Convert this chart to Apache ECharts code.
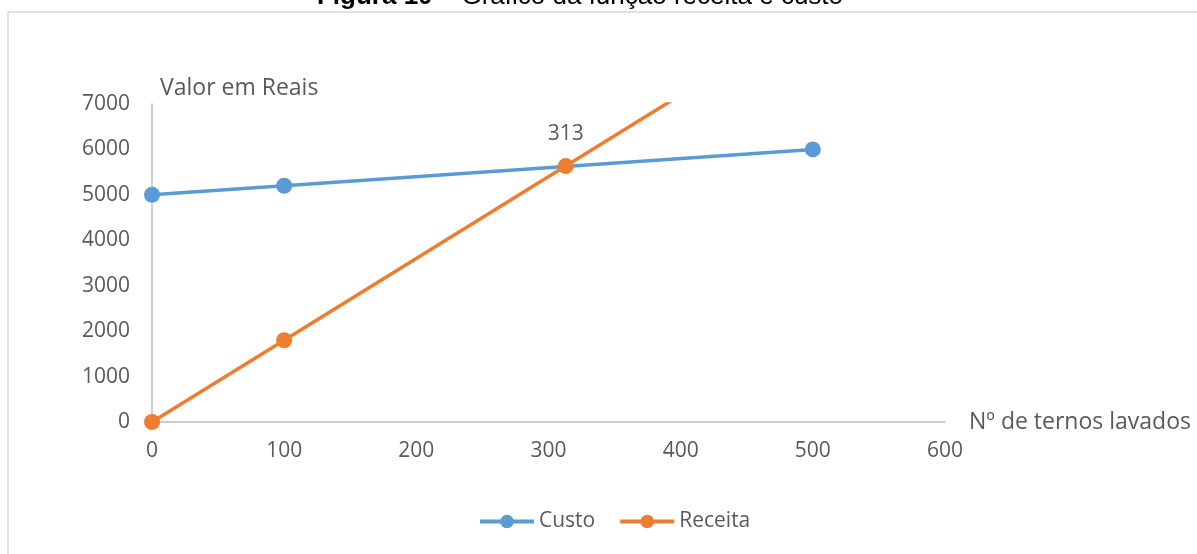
<!DOCTYPE html>
<html>
<head>
<meta charset="utf-8">
<script src="https://cdn.jsdelivr.net/npm/echarts@6/dist/echarts.min.js"></script>
<style>
  html, body { margin: 0; padding: 0; background: #ffffff; }
  #chart { width: 1197px; height: 554px; }
</style>
</head>
<body>
<div id="chart"></div>
<script>
// Number of suits washed (x) against value in reais (y)
const custoX = [0, 100, 500];
const custoY = [5000, 5200, 6000];
const receitaX = [0, 100, 313, 500];
const receitaY = [0, 1800, 5634, 9000];
const breakEvenLabel = '313';
const xTicks = { min: 0, max: 600, step: 100 };
const yTicks = { min: 0, max: 7000, step: 1000 };

const FONT = '"Open Sans", sans-serif';
const TITLE_FONT = '"Liberation Sans", Arial, sans-serif';
const GREY = '#595959';

const chart = echarts.init(document.getElementById('chart'), null, { renderer: 'canvas' });

const custoData = custoX.map((x, i) => [x, custoY[i]]);
const receitaData = receitaX.map((x, i) => {
  const p = { value: [x, receitaY[i]] };
  if (String(x) === breakEvenLabel) {
    p.label = {
      show: true, position: 'top', distance: 14,
      formatter: breakEvenLabel, color: GREY, fontSize: 21, fontFamily: FONT
    };
  }
  return p;
});

chart.setOption({
  animation: false,
  backgroundColor: '#ffffff',
  graphic: [
    {
      type: 'rect', silent: true, z: -10,
      shape: { x: 8, y: 12, width: 1400, height: 800 },
      style: { fill: 'none', stroke: '#d9d9d9', lineWidth: 1.5 }
    },
    {
      type: 'text', silent: true, x: 580, y: 10,
      style: {
        text: '{b|Figura 10}{r| – Gráfico da função receita e custo}',
        align: 'center', verticalAlign: 'bottom',
        fontSize: 26, fontFamily: TITLE_FONT, fill: '#000000',
        rich: {
          b: { fontWeight: 'bold', fontSize: 26, fontFamily: TITLE_FONT, fill: '#000000' },
          r: { fontWeight: 'normal', fontSize: 26, fontFamily: TITLE_FONT, fill: '#000000' }
        }
      }
    }
  ],
  grid: { left: 152, right: 252, top: 104, bottom: 132, containLabel: false },
  legend: {
    bottom: 17, left: 473,
    itemWidth: 54, itemHeight: 17, itemGap: 23,
    lineStyle: { width: 4 },
    textStyle: { color: GREY, fontSize: 21, fontFamily: FONT },
    data: ['Custo', 'Receita']
  },
  xAxis: {
    type: 'value', min: xTicks.min, max: xTicks.max, interval: xTicks.step,
    name: 'Nº de ternos lavados', nameLocation: 'end', nameGap: 24,
    nameTextStyle: { color: GREY, fontSize: 23, fontFamily: FONT, align: 'left', verticalAlign: 'middle' },
    axisLine: { show: true, lineStyle: { color: '#bfbfbf', width: 1.5 } },
    axisTick: { show: false },
    splitLine: { show: false },
    axisLabel: { color: GREY, fontSize: 21, fontFamily: FONT, margin: 19 }
  },
  yAxis: {
    type: 'value', min: yTicks.min, max: yTicks.max, interval: yTicks.step,
    name: 'Valor em Reais', nameLocation: 'end', nameGap: 4,
    nameTextStyle: { color: GREY, fontSize: 23, fontFamily: FONT, align: 'left', padding: [0, 0, 0, 8] },
    axisLine: { show: true, lineStyle: { color: '#bfbfbf', width: 1.5 } },
    axisTick: { show: false },
    splitLine: { show: false },
    axisLabel: { color: GREY, fontSize: 21, fontFamily: FONT, margin: 22, formatter: (v) => String(v) }
  },
  series: [
    {
      name: 'Custo', type: 'line', data: custoData,
      symbol: 'circle', symbolSize: 16,
      itemStyle: { color: '#5b9bd5' },
      lineStyle: { color: '#5b9bd5', width: 3.5 },
      clip: true, z: 2
    },
    {
      name: 'Receita', type: 'line', data: receitaData,
      symbol: 'circle', symbolSize: 16,
      itemStyle: { color: '#ed7d31' },
      lineStyle: { color: '#ed7d31', width: 3.5 },
      clip: true, z: 3
    }
  ]
});
</script>
</body>
</html>
